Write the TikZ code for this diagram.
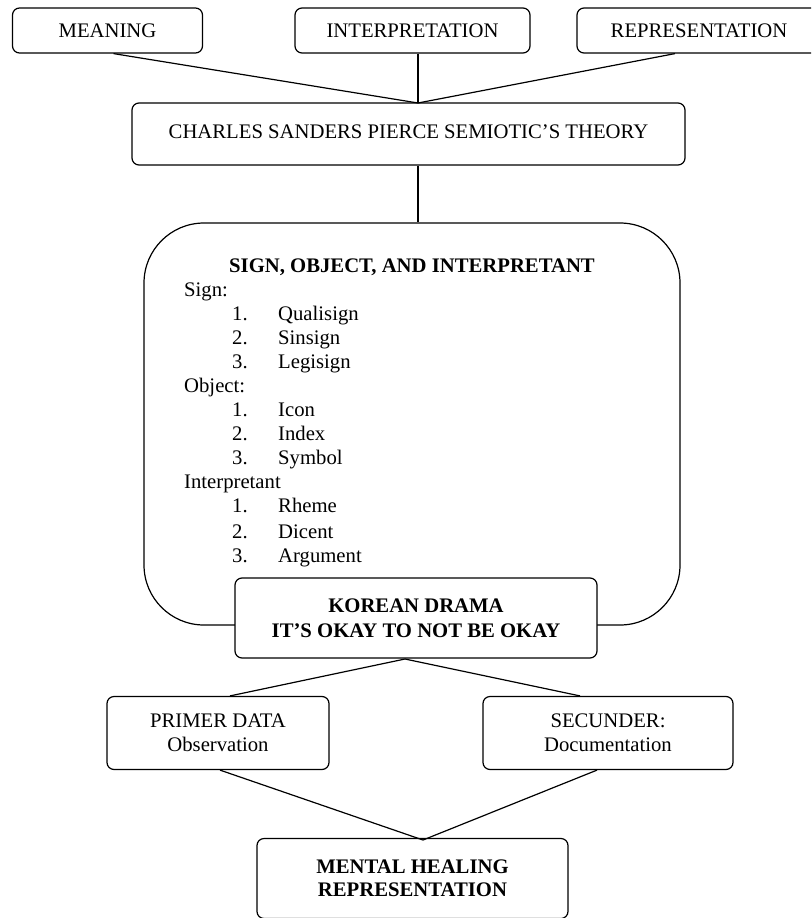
\documentclass[tikz,border=0pt]{standalone}
\usepackage{fontspec}
\setmainfont{Liberation Serif}
\begin{document}
\begin{tikzpicture}[x=1pt,y=-1pt,
  box/.style={draw, line width=1.2pt, rounded corners=7pt, align=center, inner sep=0pt, fill=white},
  lnk/.style={line width=1.2pt},
  txt/.style={font=\fontsize{20.7}{24}\selectfont},
  item/.style={anchor=base west, inner sep=0pt, font=\fontsize{20.7}{24}\selectfont}]
\useasboundingbox (0,0) rectangle (811,918);
\begin{scope}
\clip (0,0) rectangle (811,918);
% top boxes
\node[box, txt, minimum width=190, minimum height=45] (meaning) at (107.5,30.5) {MEANING};
\node[box, txt, minimum width=235, minimum height=45] (interp) at (412.5,30.5) {INTERPRETATION};
\node[box, txt, minimum width=244, minimum height=45] (repr) at (699,30.5) {REPRESENTATION};
\node[box, txt, minimum width=553, minimum height=62] (charles) at (408.5,134) {\raisebox{5pt}{CHARLES SANDERS PIERCE SEMIOTIC’S THEORY}};
\coordinate (c1) at (418,103);
\draw[lnk] ([xshift=6]meaning.south) -- (c1);
\draw[lnk] ([xshift=5.5]interp.south) -- (c1);
\draw[lnk] ([xshift=-24]repr.south) -- (c1);
% big box
\node[draw, line width=1.2pt, rounded corners=60pt, minimum width=536, minimum height=402, inner sep=0pt] (big) at (412,424) {};
\draw[lnk] ([xshift=9.5]charles.south) -- (418,0 |- big.north);
\node[txt, font=\fontsize{20.7}{24}\selectfont\bfseries, inner sep=0pt, anchor=base] (title) at (412,272) {SIGN, OBJECT, AND INTERPRETANT};
\node[item] (s0) at (184,296) {Sign:};
\node[item] (s1) at (232,320) {1.};
\node[item] (s1t) at (278,320) {Qualisign};
\node[item] (s2) at (232,344) {2.};
\node[item] (s2t) at (278,344) {Sinsign};
\node[item] (s3) at (232,368) {3.};
\node[item] (s3t) at (278,368) {Legisign};
\node[item] (o0) at (184,392) {Object:};
\node[item] (o1) at (232,416) {1.};
\node[item] (o1t) at (278,416) {Icon};
\node[item] (o2) at (232,440) {2.};
\node[item] (o2t) at (278,440) {Index};
\node[item] (o3) at (232,464) {3.};
\node[item] (o3t) at (278,464) {Symbol};
\node[item] (i0) at (184,488) {Interpretant};
\node[item] (i1) at (232,512) {1.};
\node[item] (i1t) at (278,512) {Rheme};
\node[item] (i2) at (232,538) {2.};
\node[item] (i2t) at (278,538) {Dicent};
\node[item] (i3) at (232,562) {3.};
\node[item] (i3t) at (278,562) {Argument};
% korean drama
\node[box, minimum width=362, minimum height=80, font=\fontsize{20.7}{25}\selectfont\bfseries] (korean) at (416,618) {KOREAN DRAMA\\IT’S OKAY TO NOT BE OKAY};
% data boxes
\node[box, txt, minimum width=222, minimum height=73] (primer) at (218,733) {PRIMER DATA\\Observation};
\node[box, txt, minimum width=250, minimum height=73] (secunder) at (608,733) {SECUNDER:\\Documentation};
\coordinate (c2) at (405,659);
\draw[lnk] (c2) -- ([xshift=12]primer.north);
\draw[lnk] (c2) -- ([xshift=-28]secunder.north);
% mental healing
\node[box, minimum width=311, minimum height=80, font=\fontsize{20.7}{23}\selectfont\bfseries] (mental) at (412.5,878.5) {MENTAL HEALING\\REPRESENTATION};
\coordinate (c3) at (423,840);
\draw[lnk] ([xshift=2]primer.south) -- (c3);
\draw[lnk] ([xshift=-11]secunder.south) -- (c3);
\end{scope}
\end{tikzpicture}
\end{document}
